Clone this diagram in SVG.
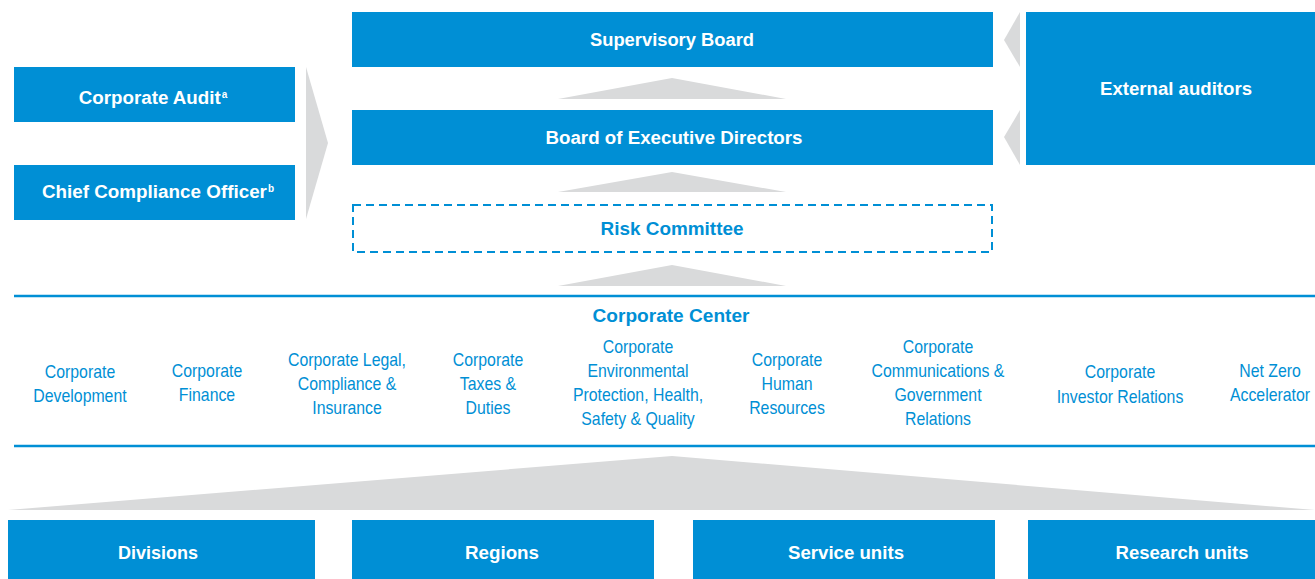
<svg xmlns="http://www.w3.org/2000/svg" width="1315" height="579" viewBox="0 0 1315 579">
<style>
.box{fill:#008fd5}
.arr{fill:#d9dadb}
.wt{font-family:"Liberation Sans",Arial,sans-serif;font-weight:bold;font-size:18px;fill:#ffffff;text-anchor:middle}
.bt{font-family:"Liberation Sans",Arial,sans-serif;font-weight:bold;font-size:18px;fill:#008fd5;text-anchor:middle}
.ct{font-family:"Liberation Sans",Arial,sans-serif;font-size:18px;fill:#008fd5;text-anchor:middle}
.sup{font-size:10px}
.line{stroke:#008fd5;stroke-width:2.5}
</style>
<rect width="1315" height="579" fill="#ffffff"/>
<g id="connectors">
<polygon class="arr" points="558,99 672,78 786,99"/>
<polygon class="arr" points="558,192 672,172 786,192"/>
<polygon class="arr" points="558,286 672,265 786,286"/>
<polygon class="arr" points="306,67 328,143 306,219"/>
<polygon class="arr" points="1020,12 1004,40 1020,67"/>
<polygon class="arr" points="1020,110 1004,137 1020,165"/>
<polygon class="arr" points="8,510 672,456 1315,510"/>
</g>
<g id="supervisory-board">
<rect class="box" x="352" y="12" width="641" height="55"/>
<text class="wt" x="672" y="46" textLength="164" lengthAdjust="spacingAndGlyphs">Supervisory Board</text>
</g>
<g id="board-executive">
<rect class="box" x="352" y="110" width="641" height="55"/>
<text class="wt" x="674" y="144" textLength="257" lengthAdjust="spacingAndGlyphs">Board of Executive Directors</text>
</g>
<g id="risk-committee">
<rect x="353" y="205" width="639" height="47" fill="none" stroke="#008fd5" stroke-width="2" stroke-dasharray="8 5"/>
<text class="bt" x="672" y="235" textLength="143" lengthAdjust="spacingAndGlyphs">Risk Committee</text>
</g>
<g id="corporate-audit">
<rect class="box" x="14" y="67" width="281" height="55"/>
<text class="wt" x="153" y="104"><tspan textLength="142" lengthAdjust="spacingAndGlyphs">Corporate Audit</tspan><tspan class="sup" dx="1" dy="-6">a</tspan></text>
</g>
<g id="chief-compliance">
<rect class="box" x="14" y="165" width="281" height="55"/>
<text class="wt" x="158" y="198"><tspan textLength="225" lengthAdjust="spacingAndGlyphs">Chief Compliance Officer</tspan><tspan class="sup" dx="1" dy="-6">b</tspan></text>
</g>
<g id="external-auditors">
<rect class="box" x="1026" y="12" width="289" height="153"/>
<text class="wt" x="1176" y="95" textLength="152" lengthAdjust="spacingAndGlyphs">External auditors</text>
</g>
<g id="corporate-center">
<line class="line" x1="14" y1="296" x2="1315" y2="296"/>
<line class="line" x1="14" y1="446" x2="1315" y2="446"/>
<text class="bt" x="671" y="322" textLength="157" lengthAdjust="spacingAndGlyphs">Corporate Center</text>
<g transform="translate(80 0) scale(0.88 1)"><text class="ct" x="0" y="378">Corporate</text><text class="ct" x="0" y="402">Development</text></g>
<g transform="translate(207 0) scale(0.88 1)"><text class="ct" x="0" y="377">Corporate</text><text class="ct" x="0" y="401">Finance</text></g>
<g transform="translate(347 0) scale(0.88 1)"><text class="ct" x="0" y="366">Corporate Legal,</text><text class="ct" x="0" y="390">Compliance &amp;</text><text class="ct" x="0" y="414">Insurance</text></g>
<g transform="translate(488 0) scale(0.88 1)"><text class="ct" x="0" y="366">Corporate</text><text class="ct" x="0" y="390">Taxes &amp;</text><text class="ct" x="0" y="414">Duties</text></g>
<g transform="translate(638 0) scale(0.88 1)"><text class="ct" x="0" y="353">Corporate</text><text class="ct" x="0" y="377">Environmental</text><text class="ct" x="0" y="401">Protection, Health,</text><text class="ct" x="0" y="425">Safety &amp; Quality</text></g>
<g transform="translate(787 0) scale(0.88 1)"><text class="ct" x="0" y="366">Corporate</text><text class="ct" x="0" y="390">Human</text><text class="ct" x="0" y="414">Resources</text></g>
<g transform="translate(938 0) scale(0.88 1)"><text class="ct" x="0" y="353">Corporate</text><text class="ct" x="0" y="377">Communications &amp;</text><text class="ct" x="0" y="401">Government</text><text class="ct" x="0" y="425">Relations</text></g>
<g transform="translate(1120 0) scale(0.88 1)"><text class="ct" x="0" y="378">Corporate</text><text class="ct" x="0" y="403">Investor Relations</text></g>
<g transform="translate(1270 0) scale(0.88 1)"><text class="ct" x="0" y="377">Net Zero</text><text class="ct" x="0" y="401">Accelerator</text></g>
</g>
<g id="divisions">
<rect class="box" x="8" y="520" width="307" height="59"/>
<text class="wt" x="158" y="559" textLength="80" lengthAdjust="spacingAndGlyphs">Divisions</text>
</g>
<g id="regions">
<rect class="box" x="352" y="520" width="302" height="59"/>
<text class="wt" x="502" y="559" textLength="74" lengthAdjust="spacingAndGlyphs">Regions</text>
</g>
<g id="service-units">
<rect class="box" x="693" y="520" width="302" height="59"/>
<text class="wt" x="846" y="559" textLength="116" lengthAdjust="spacingAndGlyphs">Service units</text>
</g>
<g id="research-units">
<rect class="box" x="1028" y="520" width="287" height="59"/>
<text class="wt" x="1182" y="559" textLength="133" lengthAdjust="spacingAndGlyphs">Research units</text>
</g>
</svg>
